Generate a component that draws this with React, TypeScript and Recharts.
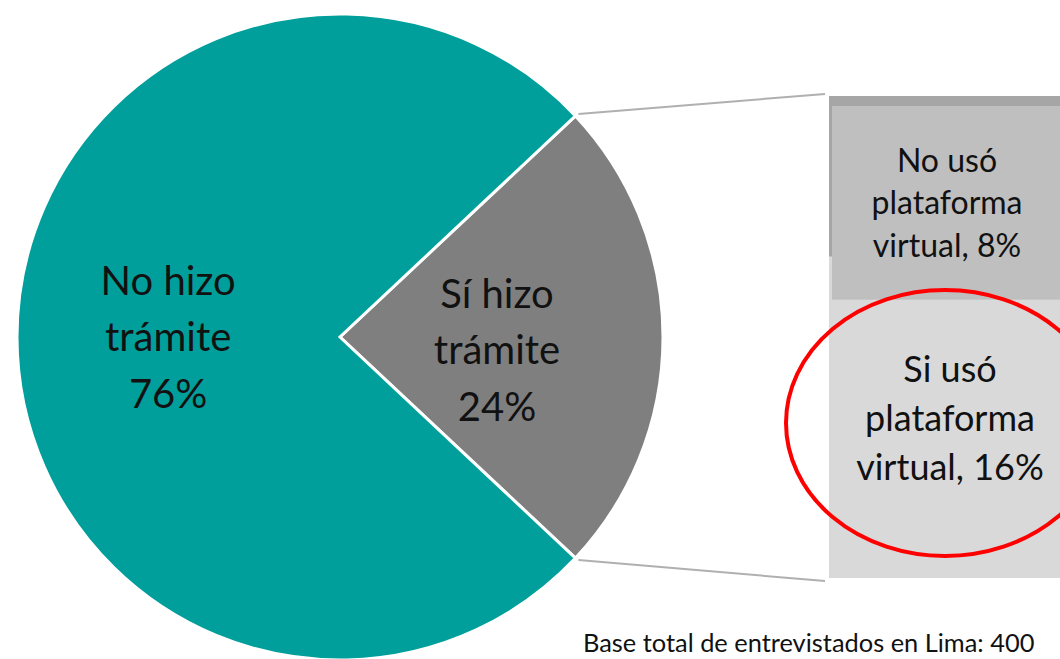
import { PieChart, Pie, Cell, BarChart, Bar, XAxis, YAxis, LabelList } from 'recharts'

const pieNames = ['Sí hizo\ntrámite', 'No hizo\ntrámite']
const pieValues = [24, 76]
const pieColors = ['#7f7f7f', '#009f9b']

const subNames = ['Si usó\nplataforma\nvirtual', 'No usó\nplataforma\nvirtual']
const subValues = [16, 8]

const footer = 'Base total de entrevistados en Lima: 400'

const pieData = pieNames.map((name, i) => ({ name, value: pieValues[i] }))
const barData = [{ name: pieNames[0], si: subValues[0], no: subValues[1] }]

const FONT = 'Lato, sans-serif'
const W = 1060
const H = 659
const CX = 340
const CY = 337
const R = 323
const START = (pieValues[0] / 100) * 180 // gray slice centered on 3 o'clock
const BAR_LEFT = 829
const BAR_TOP = 96
const BAR_H = 482
const RAD = Math.PI / 180

const labelPos = [
  { k: 0.486, dy: 27 },
  { k: 0.532, dy: 14 },
]

const renderPieLabel = (props: any) => {
  const { cx, cy, midAngle, outerRadius, index, value } = props
  const p = labelPos[index]
  const x = cx + outerRadius * p.k * Math.cos(-midAngle * RAD)
  const y = cy + outerRadius * p.k * Math.sin(-midAngle * RAD)
  const lines = [...pieNames[index].split('\n'), `${value}%`]
  return (
    <text x={x} textAnchor="middle" fontFamily={FONT} fontSize={40} fill="#111">
      {lines.map((l, i) => (
        <tspan key={i} x={x} y={y + p.dy + (i - 1) * 56.5}>{l}</tspan>
      ))}
    </text>
  )
}

const barLabel = (idx: number, size: number, gap: number, shift: number, dx: number) => (props: any) => {
  const { x, y, width, height, value } = props
  const parts = subNames[idx].split('\n')
  parts[parts.length - 1] += `, ${value}%`
  const mx = x + dx
  const my = y + height / 2 + shift
  return (
    <text x={mx} textAnchor="middle" fontFamily={FONT} fontSize={size} fill="#111">
      {parts.map((l, i) => (
        <tspan key={i} x={mx} y={my + (i - 1) * gap + size * 0.36}>{l}</tspan>
      ))}
    </text>
  )
}

const UpperShape = (props: any) => {
  const { x, y, width, height } = props
  return (
    <g>
      <rect x={x} y={y} width={width} height={height} fill="#a6a6a6" />
      <rect x={x + 3} y={y + 10} width={width - 3} height={height + 33} fill="#bfbfbf" />
    </g>
  )
}

export default function App() {
  const a = START * RAD
  const topPt = { x: CX + R * Math.cos(a), y: CY - R * Math.sin(a) }
  const botPt = { x: CX + R * Math.cos(a), y: CY + R * Math.sin(a) }
  return (
    <div style={{ position: 'absolute', left: 0, top: 0, width: W, height: H, overflow: 'hidden', background: '#fff' }}>
      <div style={{ position: 'absolute', left: 0, top: 0 }}>
        <PieChart width={W} height={H} margin={{ top: 0, right: 0, bottom: 0, left: 0 }}>
          <Pie
            data={pieData}
            dataKey="value"
            cx={CX}
            cy={CY}
            outerRadius={R}
            startAngle={START}
            endAngle={START - 360}
            stroke="#fff"
            strokeWidth={3}
            label={renderPieLabel}
            labelLine={false}
            isAnimationActive={false}
          >
            {pieData.map((d, i) => (
              <Cell key={d.name} fill={pieColors[i]} />
            ))}
          </Pie>
        </PieChart>
      </div>
      <div style={{ position: 'absolute', left: BAR_LEFT, top: BAR_TOP }}>
        <BarChart width={360} height={BAR_H} data={barData} margin={{ top: 0, right: 0, bottom: 0, left: 0 }} barCategoryGap={0}>
          <XAxis dataKey="name" hide />
          <YAxis type="number" domain={[0, subValues[0] + subValues[1]]} hide />
          <Bar dataKey="si" stackId="a" fill="#d9d9d9" isAnimationActive={false}>
            <LabelList dataKey="si" content={barLabel(0, 36, 49, 1, 121)} />
          </Bar>
          <Bar dataKey="no" stackId="a" fill="#bfbfbf" shape={UpperShape} isAnimationActive={false}>
            <LabelList dataKey="no" content={barLabel(1, 32, 42.5, 26.5, 118)} />
          </Bar>
        </BarChart>
      </div>
      <svg width={W} height={H} style={{ position: 'absolute', left: 0, top: 0, pointerEvents: 'none' }}>
        <line x1={topPt.x + 3} y1={topPt.y - 2} x2={BAR_LEFT - 4} y2={BAR_TOP - 2} stroke="#b0b0b0" strokeWidth={2} />
        <line x1={botPt.x + 3} y1={botPt.y + 2} x2={BAR_LEFT - 4} y2={BAR_TOP + BAR_H + 3} stroke="#b0b0b0" strokeWidth={2} />
        <ellipse cx={945} cy={423} rx={159} ry={133} fill="none" stroke="#ff0000" strokeWidth={4} />
        <text x={583} y={652} fontFamily={FONT} fontSize={25.4} fill="#111">{footer}</text>
      </svg>
    </div>
  )
}
